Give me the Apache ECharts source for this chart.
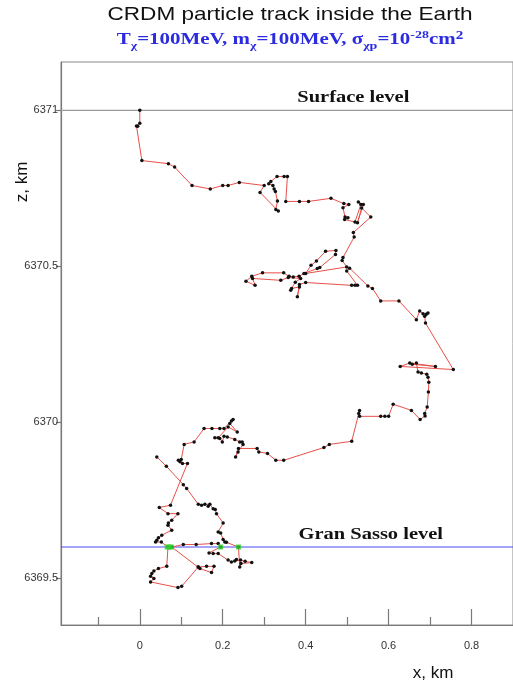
<!DOCTYPE html>
<html>
<head>
<meta charset="utf-8">
<script src="https://cdn.jsdelivr.net/npm/echarts@6/dist/echarts.min.js"></script>
<style>
  html, body { margin: 0; padding: 0; background: #ffffff; }
  #chart { width: 513px; height: 684px; }
</style>
</head>
<body>
<div id="chart"></div>
<script>
// Track of one dark-matter particle, horizontal offset x (km) and radius z (km)
const trackX = [
  0.000, 0.000, -0.008, -0.005, 0.005, 0.069, 0.084, 0.126, 0.170, 0.200,
  0.213, 0.240, 0.300, 0.290, 0.334, 0.328, 0.332, 0.327, 0.324, 0.321,
  0.311, 0.316, 0.331, 0.348, 0.356, 0.352, 0.385, 0.407, 0.461, 0.492,
  0.504, 0.490, 0.495, 0.502, 0.494, 0.519, 0.533, 0.527, 0.539, 0.525,
  0.535, 0.557, 0.515, 0.517, 0.490, 0.488, 0.499, 0.400, 0.413, 0.426,
  0.448, 0.473, 0.472, 0.434, 0.428, 0.396, 0.384, 0.370, 0.360, 0.347,
  0.296, 0.270, 0.256, 0.278, 0.272, 0.340, 0.358, 0.388, 0.375, 0.366,
  0.364, 0.385, 0.380, 0.385, 0.400, 0.511, 0.519, 0.525, 0.499, 0.506,
  0.550, 0.561, 0.581, 0.625, 0.667, 0.675, 0.683, 0.695, 0.691, 0.687,
  0.689, 0.756, 0.628, 0.651, 0.713, 0.657, 0.667, 0.671, 0.679, 0.692,
  0.695, 0.697, 0.696, 0.693, 0.687, 0.688, 0.676, 0.655, 0.611, 0.600,
  0.591, 0.581, 0.530, 0.528, 0.530, 0.511, 0.457, 0.444, 0.347, 0.328,
  0.308, 0.287, 0.283, 0.238, 0.231, 0.237, 0.249, 0.247, 0.241, 0.229,
  0.211, 0.203, 0.199, 0.193, 0.181, 0.189, 0.213, 0.235, 0.217, 0.225,
  0.221, 0.203, 0.193, 0.174, 0.155, 0.131, 0.107, 0.100, 0.093, 0.097,
  0.103, 0.115, 0.074, 0.047, 0.068, 0.092, 0.077, 0.069, 0.068, 0.077,
  0.053, 0.045, 0.038, 0.041, 0.052, 0.068, 0.065, 0.045, 0.034, 0.029,
  0.026, 0.034, 0.026, 0.092, 0.101, 0.141, 0.161, 0.179, 0.173, 0.145,
  0.141, 0.077, 0.073, 0.105, 0.136, 0.173, 0.189, 0.195, 0.167, 0.177,
  0.189, 0.213, 0.221, 0.229, 0.233, 0.243, 0.254, 0.270, 0.244, 0.241,
  0.238, 0.209, 0.205, 0.201, 0.195, 0.189, 0.201, 0.185, 0.182, 0.177,
  0.169, 0.165, 0.157, 0.149, 0.141, 0.113, 0.105, 0.064, 0.041
];
const trackZ = [
  6371.000, 6370.959, 6370.950, 6370.949, 6370.839, 6370.829, 6370.818, 6370.759, 6370.748, 6370.759,
  6370.759, 6370.769, 6370.759, 6370.737, 6370.677, 6370.682, 6370.709, 6370.740, 6370.748, 6370.759,
  6370.765, 6370.772, 6370.788, 6370.788, 6370.788, 6370.708, 6370.708, 6370.708, 6370.718, 6370.701,
  6370.698, 6370.688, 6370.658, 6370.656, 6370.650, 6370.642, 6370.698, 6370.706, 6370.698, 6370.640,
  6370.687, 6370.658, 6370.608, 6370.594, 6370.528, 6370.519, 6370.498, 6370.477, 6370.503, 6370.517,
  6370.548, 6370.551, 6370.538, 6370.496, 6370.493, 6370.477, 6370.468, 6370.466, 6370.468, 6370.479,
  6370.479, 6370.468, 6370.452, 6370.439, 6370.461, 6370.455, 6370.464, 6370.461, 6370.449, 6370.429,
  6370.423, 6370.434, 6370.402, 6370.442, 6370.448, 6370.439, 6370.439, 6370.439, 6370.485, 6370.494,
  6370.437, 6370.429, 6370.389, 6370.389, 6370.329, 6370.357, 6370.348, 6370.350, 6370.346, 6370.340,
  6370.318, 6370.169, 6370.179, 6370.190, 6370.179, 6370.186, 6370.190, 6370.161, 6370.158, 6370.154,
  6370.144, 6370.128, 6370.097, 6370.049, 6370.028, 6370.020, 6370.009, 6370.038, 6370.058, 6370.019,
  6370.019, 6370.019, 6370.019, 6370.028, 6370.038, 6369.939, 6369.929, 6369.919, 6369.878, 6369.878,
  6369.900, 6369.905, 6369.916, 6369.916, 6369.889, 6369.905, 6369.929, 6369.937, 6369.937, 6369.945,
  6369.953, 6369.955, 6369.937, 6369.948, 6369.950, 6369.950, 6369.985, 6369.969, 6369.996, 6370.009,
  6370.004, 6369.980, 6369.980, 6369.980, 6369.980, 6369.937, 6369.929, 6369.881, 6369.878, 6369.873,
  6369.868, 6369.868, 6369.734, 6369.727, 6369.707, 6369.707, 6369.686, 6369.677, 6369.670, 6369.654,
  6369.638, 6369.630, 6369.616, 6369.622, 6369.616, 6369.600, 6369.538, 6369.531, 6369.523, 6369.515,
  6369.506, 6369.499, 6369.488, 6369.470, 6369.474, 6369.536, 6369.538, 6369.538, 6369.518, 6369.531,
  6369.536, 6369.600, 6369.600, 6369.608, 6369.608, 6369.611, 6369.611, 6369.600, 6369.581, 6369.579,
  6369.579, 6369.558, 6369.552, 6369.555, 6369.560, 6369.558, 6369.554, 6369.550, 6369.547, 6369.536,
  6369.600, 6369.615, 6369.616, 6369.624, 6369.645, 6369.648, 6369.677, 6369.707, 6369.720, 6369.723,
  6369.737, 6369.731, 6369.737, 6369.734, 6369.737, 6369.788, 6369.800, 6369.859, 6369.889
];

// Points where the track crosses the Gran Sasso depth
const crossX = [0.066, 0.071, 0.076, 0.195, 0.238];
const crossZ = [6369.600, 6369.600, 6369.600, 6369.600, 6369.600];

// Reference levels
const levelNames = ['Surface level', 'Gran Sasso level'];
const levelZ = [6371.0, 6369.6];
const levelLabelX = [0.515, 0.557];
const levelColors = ['#9a9a9a', '#4b4bf2'];

// Axis ticks
const xTicks = [0, 0.2, 0.4, 0.6, 0.8];
const xMinorTicks = [-0.1, 0.1, 0.3, 0.5, 0.7];
const zTicks = [6369.5, 6370, 6370.5, 6371];

const X_MIN = -0.19, X_MAX = 0.9;
const Z_MIN = 6369.35, Z_MAX = 6371.155;

const chart = echarts.init(document.getElementById('chart'), null, { renderer: 'canvas' });

const trackData = trackX.map((x, i) => [x, trackZ[i]]);
const crossData = crossX.map((x, i) => [x, crossZ[i]]);

const axisGrey = '#7a7a7a';
const labelFont = { fontFamily: '"Liberation Sans", Arial, sans-serif', fontSize: 11, color: '#333' };

// One horizontal reference line per level, spanning the whole x range
const levelSeries = levelZ.map((z, i) => ({
  type: 'line',
  name: levelNames[i],
  data: [[X_MIN, z], [X_MAX, z]],
  silent: true,
  symbol: 'none',
  lineStyle: { color: levelColors[i], width: 1.2 },
  itemStyle: { color: levelColors[i] },
  emphasis: { disabled: true },
  z: 2
}));

chart.setOption({
  animation: false,
  backgroundColor: '#ffffff',
  grid: {
    left: 61, top: 62, width: 456, height: 563,
    show: true, borderColor: '#8a8a8a', borderWidth: 1, backgroundColor: 'transparent'
  },
  xAxis: [
    {
      type: 'value', min: X_MIN, max: X_MAX, position: 'bottom',
      axisLine: { show: true, onZero: false, lineStyle: { color: axisGrey, width: 1.2 } },
      axisTick: { show: true, inside: true, length: 16, customValues: xTicks, lineStyle: { color: axisGrey, width: 1.2 } },
      axisLabel: Object.assign({ customValues: xTicks, margin: 15, formatter: v => String(+v.toFixed(2)) }, labelFont),
      splitLine: { show: false }
    },
    {
      type: 'value', min: X_MIN, max: X_MAX, position: 'bottom',
      axisLine: { show: false, onZero: false },
      axisTick: { show: true, inside: true, length: 8, customValues: xMinorTicks, lineStyle: { color: axisGrey, width: 1.2 } },
      axisLabel: { show: false },
      splitLine: { show: false }
    }
  ],
  yAxis: {
    type: 'value', min: Z_MIN, max: Z_MAX, position: 'left',
    axisLine: { show: true, onZero: false, lineStyle: { color: axisGrey, width: 1.2 } },
    axisTick: { show: true, inside: false, length: 5, customValues: zTicks, lineStyle: { color: axisGrey, width: 1.2 } },
    axisLabel: Object.assign({ customValues: zTicks, margin: 3, formatter: v => String(+v.toFixed(1)) }, labelFont),
    splitLine: { show: false }
  },
  series: levelSeries.concat([
    {
      type: 'line',
      name: 'track',
      data: trackData,
      lineStyle: { color: '#e8504a', width: 1 },
      symbol: 'circle',
      symbolSize: 3.5,
      showSymbol: true,
      showAllSymbol: true,
      itemStyle: { color: '#111' },
      z: 3
    },
    {
      type: 'scatter',
      name: 'crossings',
      data: crossData,
      symbol: 'rect',
      symbolSize: 5,
      itemStyle: { color: '#2ed12e' },
      z: 4
    }
  ]),
  graphic: [
    {
      type: 'text', x: 290, y: 15, scaleX: 1.22,
      style: {
        text: 'CRDM particle track inside the Earth',
        align: 'center', verticalAlign: 'middle',
        font: '18.5px "Liberation Sans", Arial, sans-serif', fill: '#111'
      }
    },
    {
      type: 'text', x: 290, y: 40, scaleX: 1.27,
      style: {
        text: '{m|T}{s|χ}{m|=100MeV, m}{s|χ}{m|=100MeV, σ}{s|χp}{m|=10}{p|-28}{m|cm}{q|2}',
        align: 'center', verticalAlign: 'middle',
        rich: {
          m: { font: 'bold 16.5px "Liberation Serif", "Times New Roman", serif', fill: '#2b2be0' },
          s: { font: 'bold 11px "Liberation Serif", "Times New Roman", serif', fill: '#2b2be0', padding: [12, 0, 0, 0] },
          p: { font: 'bold 11px "Liberation Serif", "Times New Roman", serif', fill: '#2b2be0', padding: [0, 0, 10, 0] },
          q: { font: 'bold 12px "Liberation Serif", "Times New Roman", serif', fill: '#2b2be0', padding: [0, 0, 8, 0] }
        }
      }
    },
    {
      type: 'text', x: 433, y: 673,
      style: { text: 'x, km', align: 'center', verticalAlign: 'middle', font: '17px "Liberation Sans", Arial, sans-serif', fill: '#111' }
    },
    {
      type: 'text', x: 22, y: 182, rotation: Math.PI / 2,
      style: { text: 'z, km', align: 'center', verticalAlign: 'middle', font: '17px "Liberation Sans", Arial, sans-serif', fill: '#111' }
    }
  ]
});

// Level captions placed through the axes' own scales
const levelGraphics = levelNames.map((name, i) => {
  const p = chart.convertToPixel({ gridIndex: 0 }, [levelLabelX[i], levelZ[i]]);
  return {
    id: 'level-' + i,
    type: 'text', x: p[0], y: p[1] - 12, scaleX: 1.28,
    style: {
      text: name, align: 'center', verticalAlign: 'middle',
      font: 'bold 16px "Liberation Serif", "Times New Roman", serif', fill: '#111'
    }
  };
});
chart.setOption({ graphic: levelGraphics });
</script>
</body>
</html>
